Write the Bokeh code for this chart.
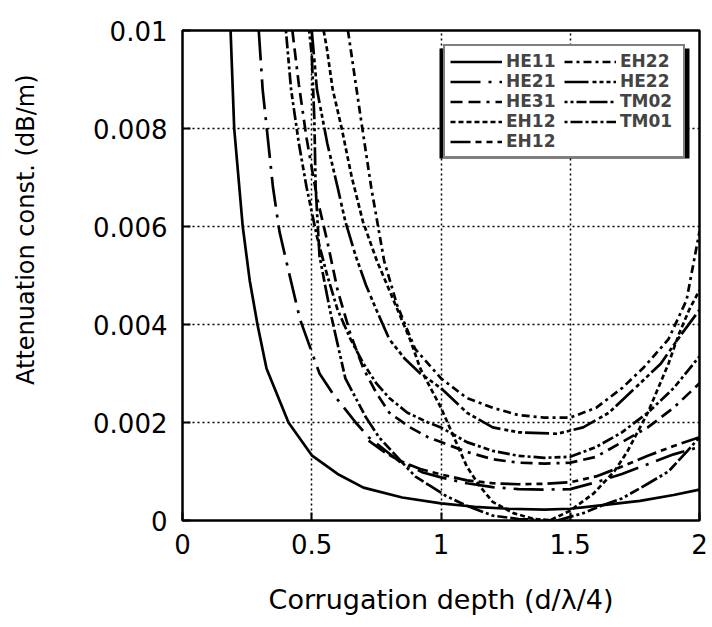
from bokeh.plotting import figure
from bokeh.models import FixedTicker, Legend, LegendItem, Range1d, BoxAnnotation
from bokeh.embed import file_html
from bokeh.resources import INLINE

# ---- data ----
HE11_x = [0.186, 0.20, 0.233, 0.26, 0.29, 0.325, 0.41, 0.50, 0.60, 0.70, 0.85, 1.00, 1.13, 1.26, 1.40, 1.50, 1.60, 1.77, 1.90, 2.00]
HE11_y = [0.0100, 0.0080, 0.0060, 0.0049, 0.0040, 0.0031, 0.0020, 0.00133, 0.00095, 0.00067, 0.00047, 0.00035, 0.00028, 0.00024, 0.00022, 0.00024, 0.00030, 0.00040, 0.00052, 0.00063]

HE21_x = [0.295, 0.31, 0.33, 0.35, 0.375, 0.41, 0.455, 0.53, 0.58, 0.67, 0.72, 0.84, 0.93, 1.00, 1.10, 1.20, 1.30, 1.40, 1.50, 1.60, 1.70, 1.80, 1.90, 2.00]
HE21_y = [0.0100, 0.0088, 0.0078, 0.0068, 0.0059, 0.0051, 0.0041, 0.0030, 0.0026, 0.0020, 0.0017, 0.0012, 0.00098, 0.00088, 0.00076, 0.00068, 0.00064, 0.00063, 0.00064, 0.00078, 0.00095, 0.00115, 0.00135, 0.00150]

HE31_x = [0.425, 0.45, 0.48, 0.52, 0.56, 0.60, 0.65, 0.70, 0.75, 0.80, 0.88, 0.95, 1.00, 1.10, 1.20, 1.30, 1.40, 1.50, 1.60, 1.70, 1.80, 1.90, 2.00]
HE31_y = [0.0100, 0.0089, 0.0078, 0.0066, 0.0057, 0.0047, 0.0038, 0.0031, 0.0026, 0.0022, 0.0019, 0.0017, 0.0016, 0.0014, 0.00125, 0.00118, 0.00116, 0.00118, 0.00130, 0.00160, 0.00190, 0.00230, 0.00280]

EH12a_x = [0.546, 0.558, 0.581, 0.616, 0.655, 0.698, 0.752, 0.80, 0.84, 0.88, 0.92, 0.97, 1.00, 1.05, 1.10, 1.15, 1.20, 1.28, 1.36, 1.42, 1.50, 1.59, 1.67, 1.72, 1.76, 1.80, 1.84, 1.88, 1.92, 1.96, 2.00]
EH12a_y = [0.0100, 0.00965, 0.0088, 0.0080, 0.0070, 0.0061, 0.0053, 0.0047, 0.0042, 0.0037, 0.0031, 0.0026, 0.0023, 0.0017, 0.0011, 0.0007, 0.00038, 0.00015, 0.00003, 0.0, 0.0002, 0.00055, 0.0010, 0.0014, 0.0018, 0.0022, 0.0027, 0.0032, 0.0038, 0.0043, 0.0047]

EH12b_x = [0.72, 0.78, 0.84, 0.92, 1.00, 1.10, 1.20, 1.30, 1.40, 1.50, 1.60, 1.70, 1.80, 1.90, 2.00]
EH12b_y = [0.00163, 0.00140, 0.00122, 0.00105, 0.00094, 0.00082, 0.00076, 0.00074, 0.00075, 0.00078, 0.00090, 0.00110, 0.00132, 0.00152, 0.00170]

EH22_x = [0.64, 0.69, 0.73, 0.78, 0.83, 0.90, 1.00, 1.10, 1.20, 1.30, 1.40, 1.50, 1.60, 1.70, 1.78, 1.88, 1.95, 2.00]
EH22_y = [0.0100, 0.0082, 0.0068, 0.0053, 0.0044, 0.0035, 0.0029, 0.0025, 0.0023, 0.00215, 0.0021, 0.0021, 0.0023, 0.0027, 0.0031, 0.0037, 0.0045, 0.0059]

HE22_x = [0.50, 0.52, 0.56, 0.60, 0.63, 0.67, 0.71, 0.75, 0.80, 0.86, 0.92, 1.00, 1.10, 1.20, 1.30, 1.45, 1.55, 1.65, 1.75, 1.85, 1.93, 2.00]
HE22_y = [0.0100, 0.0088, 0.0077, 0.0068, 0.0061, 0.0054, 0.0048, 0.0043, 0.0037, 0.0033, 0.0030, 0.0027, 0.0022, 0.0019, 0.0018, 0.00177, 0.0019, 0.0022, 0.0027, 0.0032, 0.0038, 0.0043]

TM02_x = [0.49, 0.50, 0.51, 0.515, 0.53, 0.57, 0.60, 0.63, 0.67, 0.71, 0.76, 0.83, 0.90, 0.96, 1.02, 1.10, 1.20, 1.30, 1.45, 1.55, 1.62, 1.70, 1.80, 1.88, 1.95, 2.00]
TM02_y = [0.0100, 0.0095, 0.0082, 0.0068, 0.0054, 0.0043, 0.0036, 0.0029, 0.0025, 0.0021, 0.0017, 0.0013, 0.0009, 0.0007, 0.0005, 0.0003, 0.0001, 0.00003, 0.0, 0.00015, 0.0003, 0.00045, 0.00075, 0.0010, 0.0014, 0.0017]

TM01_x = [0.40, 0.42, 0.45, 0.48, 0.52, 0.56, 0.60, 0.65, 0.70, 0.75, 0.80, 0.87, 0.95, 1.00, 1.10, 1.20, 1.30, 1.40, 1.50, 1.60, 1.70, 1.80, 1.90, 2.00]
TM01_y = [0.0100, 0.0088, 0.0077, 0.0068, 0.0058, 0.0050, 0.0043, 0.0037, 0.0032, 0.0028, 0.0025, 0.0022, 0.0020, 0.0019, 0.0016, 0.00142, 0.00132, 0.00128, 0.00130, 0.00150, 0.00180, 0.00220, 0.00270, 0.00335]

x_ticks = [0, 0.5, 1, 1.5, 2]
x_tick_labels = ["0", "0.5", "1", "1.5", "2"]
y_ticks = [0, 0.002, 0.004, 0.006, 0.008, 0.01]
y_tick_labels = ["0", "0.002", "0.004", "0.006", "0.008", "0.01"]

FONT = "DejaVu Sans"

p = figure(width=712, height=627, output_backend="svg", toolbar_location=None,
           x_range=Range1d(0, 2), y_range=Range1d(0, 0.01),
           min_border_left=182, min_border_right=13, min_border_top=30, min_border_bottom=107)
p.background_fill_color = "white"
p.border_fill_color = "white"
p.outline_line_color = "black"
p.outline_line_width = 2.5

for ax in (p.xaxis[0], p.yaxis[0]):
    ax.axis_line_color = None
    ax.major_tick_in = 8
    ax.major_tick_out = 0
    ax.minor_tick_in = 0
    ax.minor_tick_out = 0
    ax.major_tick_line_color = "black"
    ax.major_tick_line_width = 2
    ax.major_label_text_font = FONT
    ax.major_label_text_font_size = "26px"
    ax.major_label_text_color = "black"
    ax.axis_label_text_font = FONT
    ax.axis_label_text_font_style = "normal"
    ax.axis_label_text_color = "black"

p.xaxis.ticker = FixedTicker(ticks=x_ticks)
p.xaxis.major_label_overrides = dict(zip(x_ticks, x_tick_labels))
p.yaxis.ticker = FixedTicker(ticks=y_ticks)
p.yaxis.major_label_overrides = dict(zip(y_ticks, y_tick_labels))
p.xaxis.major_label_standoff = 13
p.yaxis.major_label_standoff = 15
p.xaxis.axis_label = "Corrugation depth (d/\u03bb/4)"
p.xaxis.axis_label_text_font_size = "27px"
p.xaxis.axis_label_standoff = 27
# leading no-break spaces lift the centred label to where the original sits
p.yaxis.axis_label = "\u00a0" * 12 + "Attenuation const. (dB/m)"
p.yaxis.axis_label_text_font_size = "24px"
p.yaxis.axis_label_standoff = 50

p.grid.grid_line_color = "black"
p.grid.grid_line_dash = "2 3"
p.grid.grid_line_width = 1.5

series = [
    ("HE11", HE11_x, HE11_y, "solid"),
    ("HE21", HE21_x, HE21_y, "30 8 3 8"),
    ("HE31", HE31_x, HE31_y, "12 6 12 6 3 6"),
    ("EH12", EH12a_x, EH12a_y, "5 3"),
    ("EH12", EH12b_x, EH12b_y, "20 5 6 5 6 5"),
    ("EH22", EH22_x, EH22_y, "8 4 3 4"),
    ("HE22", HE22_x, HE22_y, "24 4 4 3 4 3 4 3"),
    ("TM02", TM02_x, TM02_y, "3 3 3 3 10 3 18 3"),
    ("TM01", TM01_x, TM01_y, "3 3 12 3 3 3 6 3"),
]

items = []
for name, xs, ys, dash in series:
    r = p.line(xs, ys, line_color="black", line_width=2.7, line_dash=dash)
    items.append(LegendItem(label=name, renderers=[r]))

shadow = BoxAnnotation(left=257, right=507, top=472, bottom=362,
                       left_units="screen", right_units="screen",
                       top_units="screen", bottom_units="screen",
                       fill_color="black", fill_alpha=1, line_color=None)
p.add_layout(shadow)

legend = Legend(items=items, location="top_right", nrows=5,
                glyph_width=52, glyph_height=17, label_height=17, label_width=58,
                label_standoff=4, spacing=0, padding=5, margin=14,
                label_text_font=FONT, label_text_font_size="17px",
                label_text_font_style="bold",
                border_line_color="black", border_line_width=2.5,
                background_fill_color="white", background_fill_alpha=1)
p.add_layout(legend, "center")

open("out.html", "w").write(file_html(p, INLINE))
